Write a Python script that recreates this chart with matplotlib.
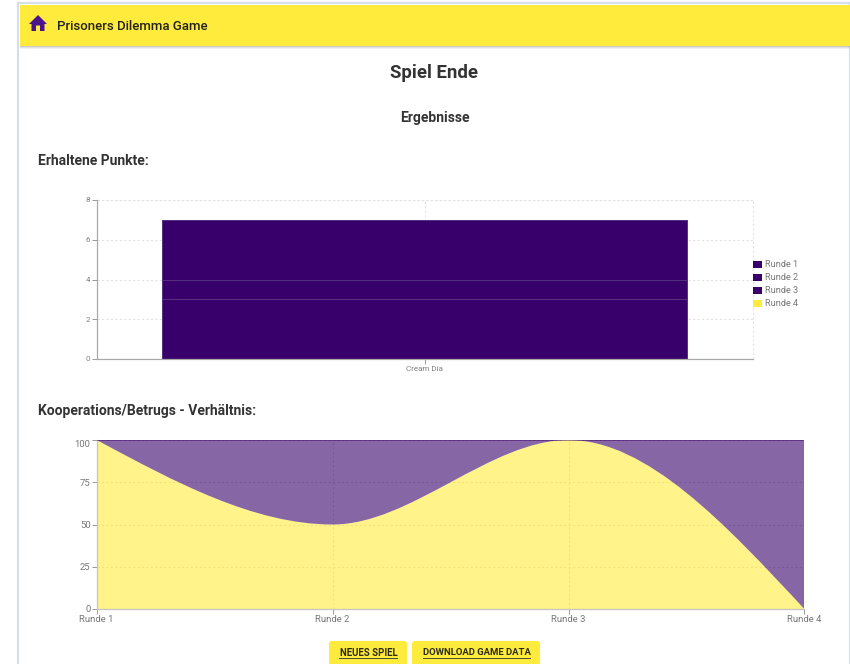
import matplotlib
matplotlib.use("Agg")
import matplotlib.pyplot as plt
from matplotlib.patches import Rectangle, FancyBboxPatch, Polygon, PathPatch
from matplotlib.path import Path
import numpy as np

plt.rcParams['font.family'] = ['Roboto', 'DejaVu Sans']

# ---- data ----
bar_category = ["Cream Dia"]
bar_series = ["Runde 1", "Runde 2", "Runde 3", "Runde 4"]
bar_values = [3, 1, 3, 0]
bar_ticks = [0, 2, 4, 6, 8]
area_rounds = ["Runde 1", "Runde 2", "Runde 3", "Runde 4"]
cooperation = [100, 50, 100, 0]
betrayal = [0, 50, 0, 100]
area_ticks = [0, 25, 50, 75, 100]

PURPLE = "#38006b"
YELLOW = "#ffeb3b"
W, H = 850, 664
PX = 0.72

fig = plt.figure(figsize=(W / 100, H / 100), dpi=100, facecolor="white")


def axes_px(x0, y0, x1, y1, **kw):
    return fig.add_axes([x0 / W, 1 - y1 / H, (x1 - x0) / W, (y1 - y0) / H], **kw)


# ---- page chrome ----
page = axes_px(0, 0, W, H, zorder=0)
page.set_xlim(0, W)
page.set_ylim(H, 0)
page.axis("off")
page.add_patch(Rectangle((18, 3), 832, 670, fc="white", ec="#d5dfea", lw=1.6))
for i, a in enumerate([0.30, 0.18, 0.08]):
    page.add_patch(Rectangle((20, 46 + i), 830, 1.2, fc="#555555", ec="none", alpha=a))
page.add_patch(Rectangle((20, 5), 830, 41, fc=YELLOW, ec="none"))
page.add_patch(Polygon([(29, 24), (38, 15), (47, 24), (44.5, 24), (44.5, 31), (40, 31),
                        (40, 25.5), (36, 25.5), (36, 31), (31.5, 31), (31.5, 24)],
                       closed=True, fc="#4a148c", ec="none"))
page.text(57.5, 26, "Prisoners Dilemma Game", fontsize=13.2 * PX, weight=500,
          color="#212121", va="center", ha="left")
page.text(434.5, 72.7, "Spiel Ende", fontsize=18.6 * PX, weight="bold", color="#333333",
          va="center", ha="center")
page.text(434.5, 118.2, "Ergebnisse", fontsize=13.9 * PX, weight="bold", color="#333333",
          va="center", ha="center")
page.text(38.5, 160.7, "Erhaltene Punkte:", fontsize=13.9 * PX, weight="bold", color="#333333",
          va="center", ha="left")
page.text(38.5, 410.7, "Kooperations/Betrugs - Verhältnis:", fontsize=13.85 * PX, weight="bold",
          color="#333333", va="center", ha="left")

for x0, x1, label, fs in [(329, 407, "NEUES SPIEL", 9.7), (412, 540, "DOWNLOAD GAME DATA", 9.5)]:
    page.add_patch(FancyBboxPatch((x0 + 1, 642), x1 - x0 - 2, 30,
                                  boxstyle="round,pad=0,rounding_size=2", mutation_scale=1,
                                  fc=YELLOW, ec=YELLOW, lw=1.5))
    page.text((x0 + x1) / 2 + 0.5, 652.5, label, fontsize=fs * PX, weight="bold", color="#2a2a1a",
              va="center", ha="center")
    tw = {"NEUES SPIEL": 58, "DOWNLOAD GAME DATA": 107}[label]
    page.plot([(x0 + x1) / 2 + 0.5 - tw / 2, (x0 + x1) / 2 + 0.5 + tw / 2], [657.5, 657.5],
              color="#4a4a30", lw=0.7)

# ---- stacked bar chart ----
GRID1 = "#e2e2e2"
ax1 = axes_px(96.7, 200, 752.7, 359, facecolor="none", zorder=1)
ax1.set_xlim(-0.5, 0.5)
ax1.set_ylim(0, 8)
ax1.set_yticks(bar_ticks)
ax1.set_xticks([0])
ax1.set_xticklabels(bar_category)
ax1.grid(True, color=GRID1, ls=(0, (2, 2)), lw=0.8)
ax1.set_axisbelow(True)
bottom = 0
colors = [PURPLE, PURPLE, PURPLE, YELLOW]
for name, v, c in zip(bar_series, bar_values, colors):
    ax1.bar(0, v, 0.8, bottom=bottom, color=c, edgecolor="#57307f", linewidth=0.7, label=name)
    bottom += v
ax1.tick_params(axis="both", colors="#999999", labelcolor="#808080", labelsize=8 * PX,
                length=3.5, width=0.7, pad=1.2)
for s in ["top", "right"]:
    ax1.spines[s].set_visible(False)
for s in ["left", "bottom"]:
    ax1.spines[s].set_color("#a8a8a8")
    ax1.spines[s].set_linewidth(0.9)
ax1.plot([1, 1], [0, 1], transform=ax1.transAxes, color=GRID1, ls=(0, (2, 2)), lw=0.8, clip_on=False)
ax1.plot([0, 1], [1, 1], transform=ax1.transAxes, color=GRID1, ls=(0, (2, 2)), lw=0.8, clip_on=False)

# legend overlay, above the chart's gridlines
over = axes_px(0, 0, W, H, zorder=5, facecolor="none")
over.set_xlim(0, W)
over.set_ylim(H, 0)
over.axis("off")
for (name, c, yp) in zip(bar_series, colors, [264.7, 277.7, 290.7, 303.7]):
    over.add_patch(Rectangle((752.7, yp - 3.5), 9.3, 7, fc=c, ec="none"))
    over.text(765, yp, name, fontsize=9.2 * PX, color="#777777", va="center", ha="left")

# ---- stacked area chart (monotone cubic, as in the source chart) ----
ax2 = axes_px(96.7, 440, 804.4, 609, facecolor="none", zorder=1)
x = np.arange(len(area_rounds), dtype=float)
y = np.array(cooperation, dtype=float)
tops = y + np.array(betrayal, dtype=float)
sec = np.diff(y)
tang = np.zeros_like(y)
for i in range(1, len(y) - 1):
    tang[i] = 0.0 if sec[i - 1] * sec[i] <= 0 else 2 * sec[i - 1] * sec[i] / (sec[i - 1] + sec[i])
tang[0] = (3 * sec[0] - tang[1]) / 2
tang[-1] = (3 * sec[-1] - tang[-2]) / 2

curve = [(x[0], y[0])]
codes = [Path.MOVETO]
for i in range(len(x) - 1):
    curve += [(x[i] + 1 / 3, y[i] + tang[i] / 3), (x[i + 1] - 1 / 3, y[i + 1] - tang[i + 1] / 3),
              (x[i + 1], y[i + 1])]
    codes += [Path.CURVE4] * 3

yellow_path = Path(curve + [(x[-1], 0), (x[0], 0), (x[0], y[0])],
                   codes + [Path.LINETO, Path.LINETO, Path.LINETO])
purple_path = Path(curve + [(x[-1], tops[-1]), (x[0], tops[0]), (x[0], y[0])],
                   codes + [Path.LINETO, Path.LINETO, Path.LINETO])

ax2.add_patch(PathPatch(yellow_path, fc=YELLOW, alpha=0.6, ec="none", zorder=2))
ax2.add_patch(PathPatch(purple_path, fc=PURPLE, alpha=0.6, ec="none", zorder=2))
ax2.plot(x, tops, color=PURPLE, lw=0.7, alpha=0.45, zorder=3)
ax2.set_xlim(0, len(x) - 1)
ax2.set_ylim(0, 100)
ax2.set_xticks(x)
ax2.set_xticklabels(area_rounds)
ax2.set_yticks(area_ticks)
ax2.grid(True, color="#dcdcdc", ls=(0, (2, 2)), lw=0.8, zorder=1)
ax2.set_axisbelow(True)
ax2.tick_params(axis="both", colors="#999999", labelcolor="#777777", labelsize=9.5 * PX,
                length=3.5, width=0.7, pad=1.0)
ax2.set_yticklabels([str(t) for t in area_ticks])
for lbl, t in zip(ax2.get_yticklabels(), area_ticks):
    if t == 100:
        lbl.set_verticalalignment("top")
for s in ["top", "right"]:
    ax2.spines[s].set_visible(False)
for s in ["left", "bottom"]:
    ax2.spines[s].set_color("#c4c4c4")
    ax2.spines[s].set_linewidth(0.9)

fig.savefig("out.png", dpi=100)
